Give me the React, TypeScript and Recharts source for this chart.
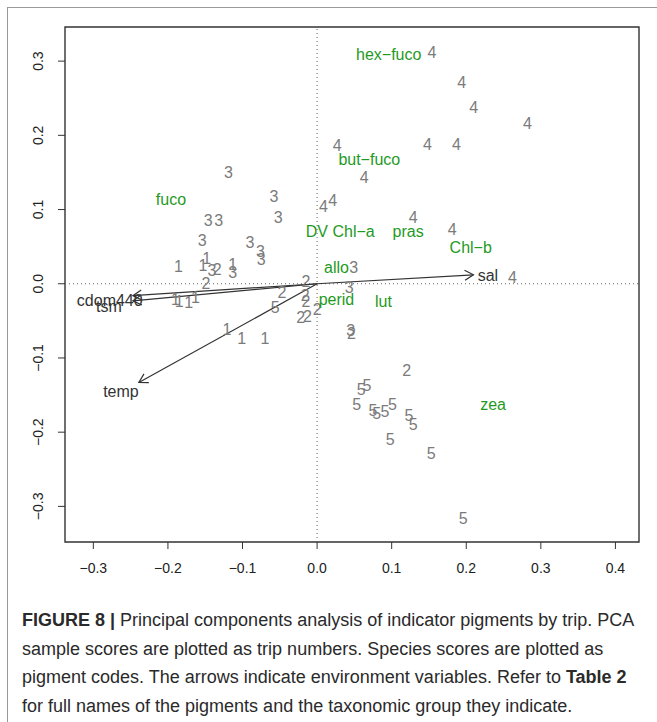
import { ScatterChart, Scatter, XAxis, YAxis, ReferenceLine, ReferenceArea } from "recharts";

type Pt = { x: number; y: number };
type LabelPt = { x: number; y: number; label: string };

// axis setup
const xTicks = [-0.3, -0.2, -0.1, 0, 0.1, 0.2, 0.3, 0.4];
const yTicks = [-0.3, -0.2, -0.1, 0, 0.1, 0.2, 0.3];
const xDomain: [number, number] = [-0.338, 0.4316];
const yDomain: [number, number] = [-0.348, 0.346];

// sample scores by trip
const trip1: Pt[] = [
  { x: -0.186, y: 0.024 },
  { x: -0.148, y: 0.035 },
  { x: -0.153, y: 0.025 },
  { x: -0.113, y: 0.026 },
  { x: -0.19, y: -0.021 },
  { x: -0.185, y: -0.023 },
  { x: -0.172, y: -0.025 },
  { x: -0.163, y: -0.018 },
  { x: -0.121, y: -0.061 },
  { x: -0.101, y: -0.074 },
  { x: -0.07, y: -0.073 },
];

const trip2: Pt[] = [
  { x: -0.134, y: 0.02 },
  { x: -0.149, y: 0.001 },
  { x: -0.015, y: 0.003 },
  { x: -0.047, y: -0.012 },
  { x: -0.016, y: -0.015 },
  { x: -0.015, y: -0.023 },
  { x: -0.022, y: -0.045 },
  { x: -0.013, y: -0.044 },
  { x: 0.0, y: -0.035 },
  { x: 0.046, y: -0.067 },
  { x: 0.12, y: -0.117 },
];

const trip3: Pt[] = [
  { x: -0.119, y: 0.15 },
  { x: -0.058, y: 0.118 },
  { x: -0.146, y: 0.086 },
  { x: -0.132, y: 0.086 },
  { x: -0.052, y: 0.089 },
  { x: -0.154, y: 0.058 },
  { x: -0.09, y: 0.056 },
  { x: -0.076, y: 0.044 },
  { x: -0.075, y: 0.033 },
  { x: -0.141, y: 0.018 },
  { x: -0.113, y: 0.015 },
  { x: 0.049, y: 0.022 },
  { x: 0.043, y: -0.005 },
  { x: 0.045, y: -0.062 },
];

const trip4: Pt[] = [
  { x: 0.154, y: 0.312 },
  { x: 0.194, y: 0.271 },
  { x: 0.21, y: 0.238 },
  { x: 0.282, y: 0.216 },
  { x: 0.148, y: 0.188 },
  { x: 0.187, y: 0.188 },
  { x: 0.027, y: 0.186 },
  { x: 0.063, y: 0.144 },
  { x: 0.0085, y: 0.105 },
  { x: 0.021, y: 0.113 },
  { x: 0.129, y: 0.09 },
  { x: 0.181, y: 0.073 },
  { x: 0.262, y: 0.0085 },
];

const trip5: Pt[] = [
  { x: -0.056, y: -0.031 },
  { x: 0.067, y: -0.137 },
  { x: 0.059, y: -0.142 },
  { x: 0.053, y: -0.162 },
  { x: 0.075, y: -0.17 },
  { x: 0.08, y: -0.174 },
  { x: 0.091, y: -0.172 },
  { x: 0.101, y: -0.162 },
  { x: 0.123, y: -0.177 },
  { x: 0.129, y: -0.189 },
  { x: 0.098, y: -0.21 },
  { x: 0.153, y: -0.228 },
  { x: 0.196, y: -0.316 },
];

// species (pigment) scores
const pigments: LabelPt[] = [
  { x: 0.096, y: 0.309, label: "hex−fuco" },
  { x: 0.07, y: 0.168, label: "but−fuco" },
  { x: -0.196, y: 0.114, label: "fuco" },
  { x: 0.031, y: 0.071, label: "DV Chl−a" },
  { x: 0.122, y: 0.071, label: "pras" },
  { x: 0.206, y: 0.049, label: "Chl−b" },
  { x: 0.026, y: 0.022, label: "allo" },
  { x: 0.026, y: -0.021, label: "perid" },
  { x: 0.089, y: -0.024, label: "lut" },
  { x: 0.236, y: -0.162, label: "zea" },
];

// environment vectors
const envArrows: LabelPt[] = [
  { x: -0.247, y: -0.016, label: "cdom440" },
  { x: -0.247, y: -0.023, label: "tsm" },
  { x: -0.239, y: -0.133, label: "temp" },
  { x: 0.2096, y: 0.0121, label: "sal" },
];

const envLabels: LabelPt[] = [
  { x: -0.278, y: -0.022, label: "cdom440" },
  { x: -0.279, y: -0.03, label: "tsm" },
  { x: -0.263, y: -0.145, label: "temp" },
  { x: 0.229, y: 0.012, label: "sal" },
];

const trips = [
  { n: "1", data: trip1 },
  { n: "2", data: trip2 },
  { n: "3", data: trip3 },
  { n: "4", data: trip4 },
  { n: "5", data: trip5 },
];

const FONT = "'Liberation Sans', Arial, Helvetica, sans-serif";
const minus = (v: number) => (v === 0 ? "0.0" : v.toFixed(1).replace("-", "\u2212"));

const textShape = (txt: string | null, color: string) => (props: any) => {
  const label = txt ?? props.payload?.label;
  return (
    <text
      x={props.cx}
      y={props.cy}
      dy="0.36em"
      textAnchor="middle"
      fontSize={16}
      fontFamily={FONT}
      fill={color}
    >
      {label}
    </text>
  );
};

const ArrowShape = (props: any) => {
  const { x1, y1, x2, y2 } = props;
  const a = Math.atan2(y2 - y1, x2 - x1);
  const len = 10;
  const s = Math.PI / 6;
  const p1 = `${x2 - len * Math.cos(a - s)},${y2 - len * Math.sin(a - s)}`;
  const p2 = `${x2 - len * Math.cos(a + s)},${y2 - len * Math.sin(a + s)}`;
  return (
    <g>
      <line x1={x1} y1={y1} x2={x2} y2={y2} stroke="#333" strokeWidth={1.2} />
      <polyline points={`${p1} ${x2},${y2} ${p2}`} fill="none" stroke="#333" strokeWidth={1.2} />
    </g>
  );
};

const YTick = (props: any) => {
  const { y, payload } = props;
  return (
    <text
      x={43}
      y={y}
      transform={`rotate(-90, 43, ${y})`}
      textAnchor="middle"
      fontSize={14}
      fontFamily={FONT}
      fill="#222"
    >
      {minus(payload.value)}
    </text>
  );
};

export default function App() {
  return (
    <div
      style={{
        position: "absolute",
        left: 0,
        top: 0,
        width: 657,
        height: 722,
        overflow: "hidden",
        background: "#fff",
      }}
    >
      <div
        style={{
          position: "absolute",
          left: 7,
          top: 7,
          width: 700,
          height: 760,
          borderLeft: "1px solid #999",
          borderTop: "1px solid #999",
        }}
      />
      <div style={{ position: "absolute", left: 0, top: 0 }}>
        <ScatterChart width={657} height={600} margin={{ top: 27, right: 18, bottom: 0, left: 0 }}>
          <XAxis
            type="number"
            dataKey="x"
            domain={xDomain}
            ticks={xTicks}
            allowDataOverflow
            axisLine={false}
            tickLine={{ stroke: "#333" }}
            tickSize={7}
            tickMargin={14}
            height={58}
            tickFormatter={minus}
            tick={{ fill: "#222", fontSize: 14, fontFamily: FONT }}
          />
          <YAxis
            type="number"
            dataKey="y"
            domain={yDomain}
            ticks={yTicks}
            allowDataOverflow
            axisLine={false}
            tickLine={{ stroke: "#333" }}
            tickSize={7}
            width={65}
            tick={<YTick />}
          />
          <ReferenceLine x={0} stroke="#666" strokeDasharray="1 3" />
          <ReferenceLine y={0} stroke="#666" strokeDasharray="1 3" />
          <ReferenceArea
            x1={xDomain[0]}
            x2={xDomain[1]}
            y1={yDomain[0]}
            y2={yDomain[1]}
            fill="none"
            fillOpacity={0}
            stroke="#333"
            strokeWidth={1.4}
          />
          {envArrows.map((e) => (
            <ReferenceLine
              key={e.label}
              segment={[
                { x: 0, y: 0 },
                { x: e.x, y: e.y },
              ]}
              shape={ArrowShape}
            />
          ))}
          {trips.map((t) => (
            <Scatter
              key={t.n}
              data={t.data}
              isAnimationActive={false}
              shape={textShape(t.n, "#7b7b7b")}
            />
          ))}
          <Scatter data={pigments} isAnimationActive={false} shape={textShape(null, "#1f9a1f")} />
          <Scatter data={envLabels} isAnimationActive={false} shape={textShape(null, "#333")} />
        </ScatterChart>
      </div>
      <div
        style={{
          position: "absolute",
          left: 22,
          top: 606,
          width: 640,
          fontFamily: FONT,
          fontSize: 18,
          lineHeight: "28.5px",
          color: "#2a2a2a",
          whiteSpace: "nowrap",
        }}
      >
        <div>
          <b>FIGURE 8 |</b> Principal components analysis of indicator pigments by trip. PCA
        </div>
        <div>sample scores are plotted as trip numbers. Species scores are plotted as</div>
        <div>
          pigment codes. The arrows indicate environment variables. Refer to <b>Table 2</b>
        </div>
        <div>for full names of the pigments and the taxonomic group they indicate.</div>
      </div>
    </div>
  );
}
